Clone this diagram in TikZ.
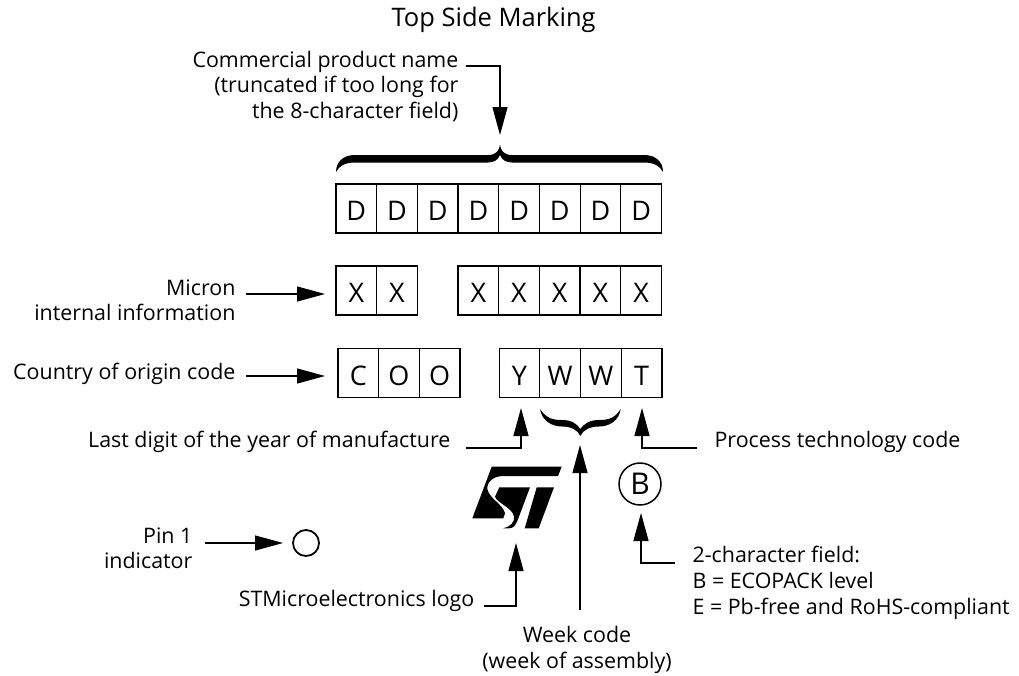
\documentclass[tikz,border=0pt]{standalone}
\usepackage{fontspec}
\setmainfont{Open Sans}
\usetikzlibrary{positioning,arrows.meta}

\begin{document}
\begin{tikzpicture}[x=1pt,y=-1pt,line width=1.2pt,
    every node/.style={on grid,node distance=40.7pt,inner sep=0pt},
    lbl/.style={font=\fontsize{21.4}{25.6}\selectfont},
    cell/.style={draw,minimum width=40.7pt,minimum height=49pt,text height=24pt,text depth=0pt,font=\fontsize{27}{27}\selectfont},
    arr/.style={-{Triangle[length=28pt,width=15pt]}}]
  \useasboundingbox (0,0) rectangle (1019,675);
  \node[font=\fontsize{25.5}{25.5}\selectfont,anchor=base west] (title) at (391,26) {Top Side Marking};
  % marking rows
  \node[cell] (D1) at (356.3,208.5) {D};
  \node[cell,right of=D1] (D2) {D};
  \node[cell,right of=D2] (D3) {D};
  \node[cell,right of=D3] (D4) {D};
  \node[cell,right of=D4] (D5) {D};
  \node[cell,right of=D5] (D6) {D};
  \node[cell,right of=D6] (D7) {D};
  \node[cell,right of=D7] (D8) {D};
  \node[cell] (X1) at (356.3,290.5) {X};
  \node[cell,right of=X1] (X2) {X};
  \node[cell] (X3) at (478.3,290.5) {X};
  \node[cell,right of=X3] (X4) {X};
  \node[cell,right of=X4] (X5) {X};
  \node[cell,right of=X5] (X6) {X};
  \node[cell,right of=X6] (X7) {X};
  \node[cell] (C) at (358.3,373) {C};
  \node[cell,right of=C] (O1) {O};
  \node[cell,right of=O1] (O2) {O};
  \node[cell] (Y) at (519.5,373) {Y};
  \node[cell,right of=Y] (W1) {W};
  \node[cell,right of=W1] (W2) {W};
  \node[cell,right of=W2] (T) {T};
  % labels
  \node[lbl,align=right,anchor=north east] (name) at (459,50.5) {Commercial product name\\(truncated if too long for\\the 8-character field)};
  \node[lbl,align=right,anchor=north east] (micron) at (236,279) {Micron\\internal information};
  \node[lbl,anchor=base east] (country) at (236,379) {Country of origin code};
  \node[lbl,anchor=base east] (year) at (451,447) {Last digit of the year of manufacture};
  \node[lbl,anchor=base west] (process) at (714,447) {Process technology code};
  \node[lbl,align=right,anchor=north east] (pinlbl) at (193,527) {Pin 1\\indicator};
  \node[lbl,anchor=base east] (logolbl) at (475,606) {STMicroelectronics logo};
  \node[lbl,align=center,anchor=north] (week) at (577,626) {Week code\\(week of assembly)};
  \node[lbl,align=left,anchor=north west] (field) at (692,546) {2-character field:\\B = ECOPACK level\\E = Pb-free and RoHS-compliant};
  \node[draw,circle,minimum size=26pt,line width=1.8pt] (pin) at (306,543) {};
  \node[draw,circle,minimum size=42pt,line width=1.5pt,font=\fontsize{30}{30}\selectfont] (B) at (640,484) {B};
  % ends and elbows of the leaders
  \coordinate (a1) at (466,66);
  \coordinate (a2) at (500,66);
  \coordinate (a3) at (500,135);
  \coordinate (m1) at (246,294);
  \coordinate (m2) at (325,294);
  \coordinate (c1) at (246,376);
  \coordinate (c2) at (325,376);
  \coordinate (y1) at (466,448);
  \coordinate (y2) at (521,448);
  \coordinate (y3) at (521,408);
  \coordinate (t1) at (697,448);
  \coordinate (t2) at (642,448);
  \coordinate (t3) at (642,408);
  \coordinate (w1) at (580,610);
  \coordinate (w2) at (580,445);
  \coordinate (b1) at (675,563);
  \coordinate (b2) at (641,563);
  \coordinate (b3) at (641,513);
  \coordinate (l1) at (484,606);
  \coordinate (l2) at (516,606);
  \coordinate (l3) at (516,543);
  \coordinate (p1) at (205,543);
  \coordinate (p2) at (283,543);
  \draw[arr] (a1) -- (a2) -- (a3);
  \draw[arr] (m1) -- (m2);
  \draw[arr] (c1) -- (c2);
  \draw[arr] (y1) -- (y2) -- (y3);
  \draw[arr] (t1) -- (t2) -- (t3);
  \draw[arr] (w1) -- (w2);
  \draw[arr] (b1) -- (b2) -- (b3);
  \draw[arr] (l1) -- (l2) -- (l3);
  \draw[arr] (p1) -- (p2);
  % braces
  \fill (500,145) .. controls (501,150) and (503,155) .. (512,155) -- (644,155)
    .. controls (656,155) and (663,162) .. (663,172)
    .. controls (660,166) and (654,162.5) .. (644,162.5) -- (512,162.5)
    .. controls (506,162.5) and (502,160) .. (500,155)
    .. controls (498,160) and (494,162.5) .. (488,162.5) -- (355,162.5)
    .. controls (345,162.5) and (339,166) .. (336,172)
    .. controls (336,162) and (343,155) .. (355,155) -- (488,155)
    .. controls (497,155) and (499,150) .. (500,145) -- cycle;
  \fill (540,409) .. controls (546,418) and (552,420) .. (562,420)
    .. controls (572,420) and (577,424) .. (580.3,429)
    .. controls (584,424) and (589,420) .. (599,420)
    .. controls (609,420) and (615,418) .. (620.7,409)
    .. controls (619,421) and (609,426.5) .. (599,426.5)
    .. controls (590,426.5) and (583,430) .. (580.3,436)
    .. controls (578,430) and (571,426.5) .. (562,426.5)
    .. controls (552,426.5) and (542,421) .. (540,409) -- cycle;
  % logo
  \fill (491.7,466.7) -- (561.7,466.7) -- (558,476) -- (503.3,476)
    .. controls (490,476) and (485,486) .. (488.3,491.7)
    .. controls (491,499) and (503,505) .. (505,513.3)
    -- (503.3,518.3) -- (472.3,518.3) -- cycle;
  \fill (499.3,487.3) -- (530,487.3) -- (517.7,520)
    .. controls (515.5,526) and (513,528.3) .. (509,528.3) -- (503.3,528.3)
    .. controls (510,527) and (515,522) .. (514,516.7)
    .. controls (513,508) and (497,503) .. (495,496.7) -- cycle;
  \fill (536.7,487.3) -- (554,487.3) -- (538.7,528.3) -- (524.7,528.3) -- cycle;
\end{tikzpicture}
\end{document}
